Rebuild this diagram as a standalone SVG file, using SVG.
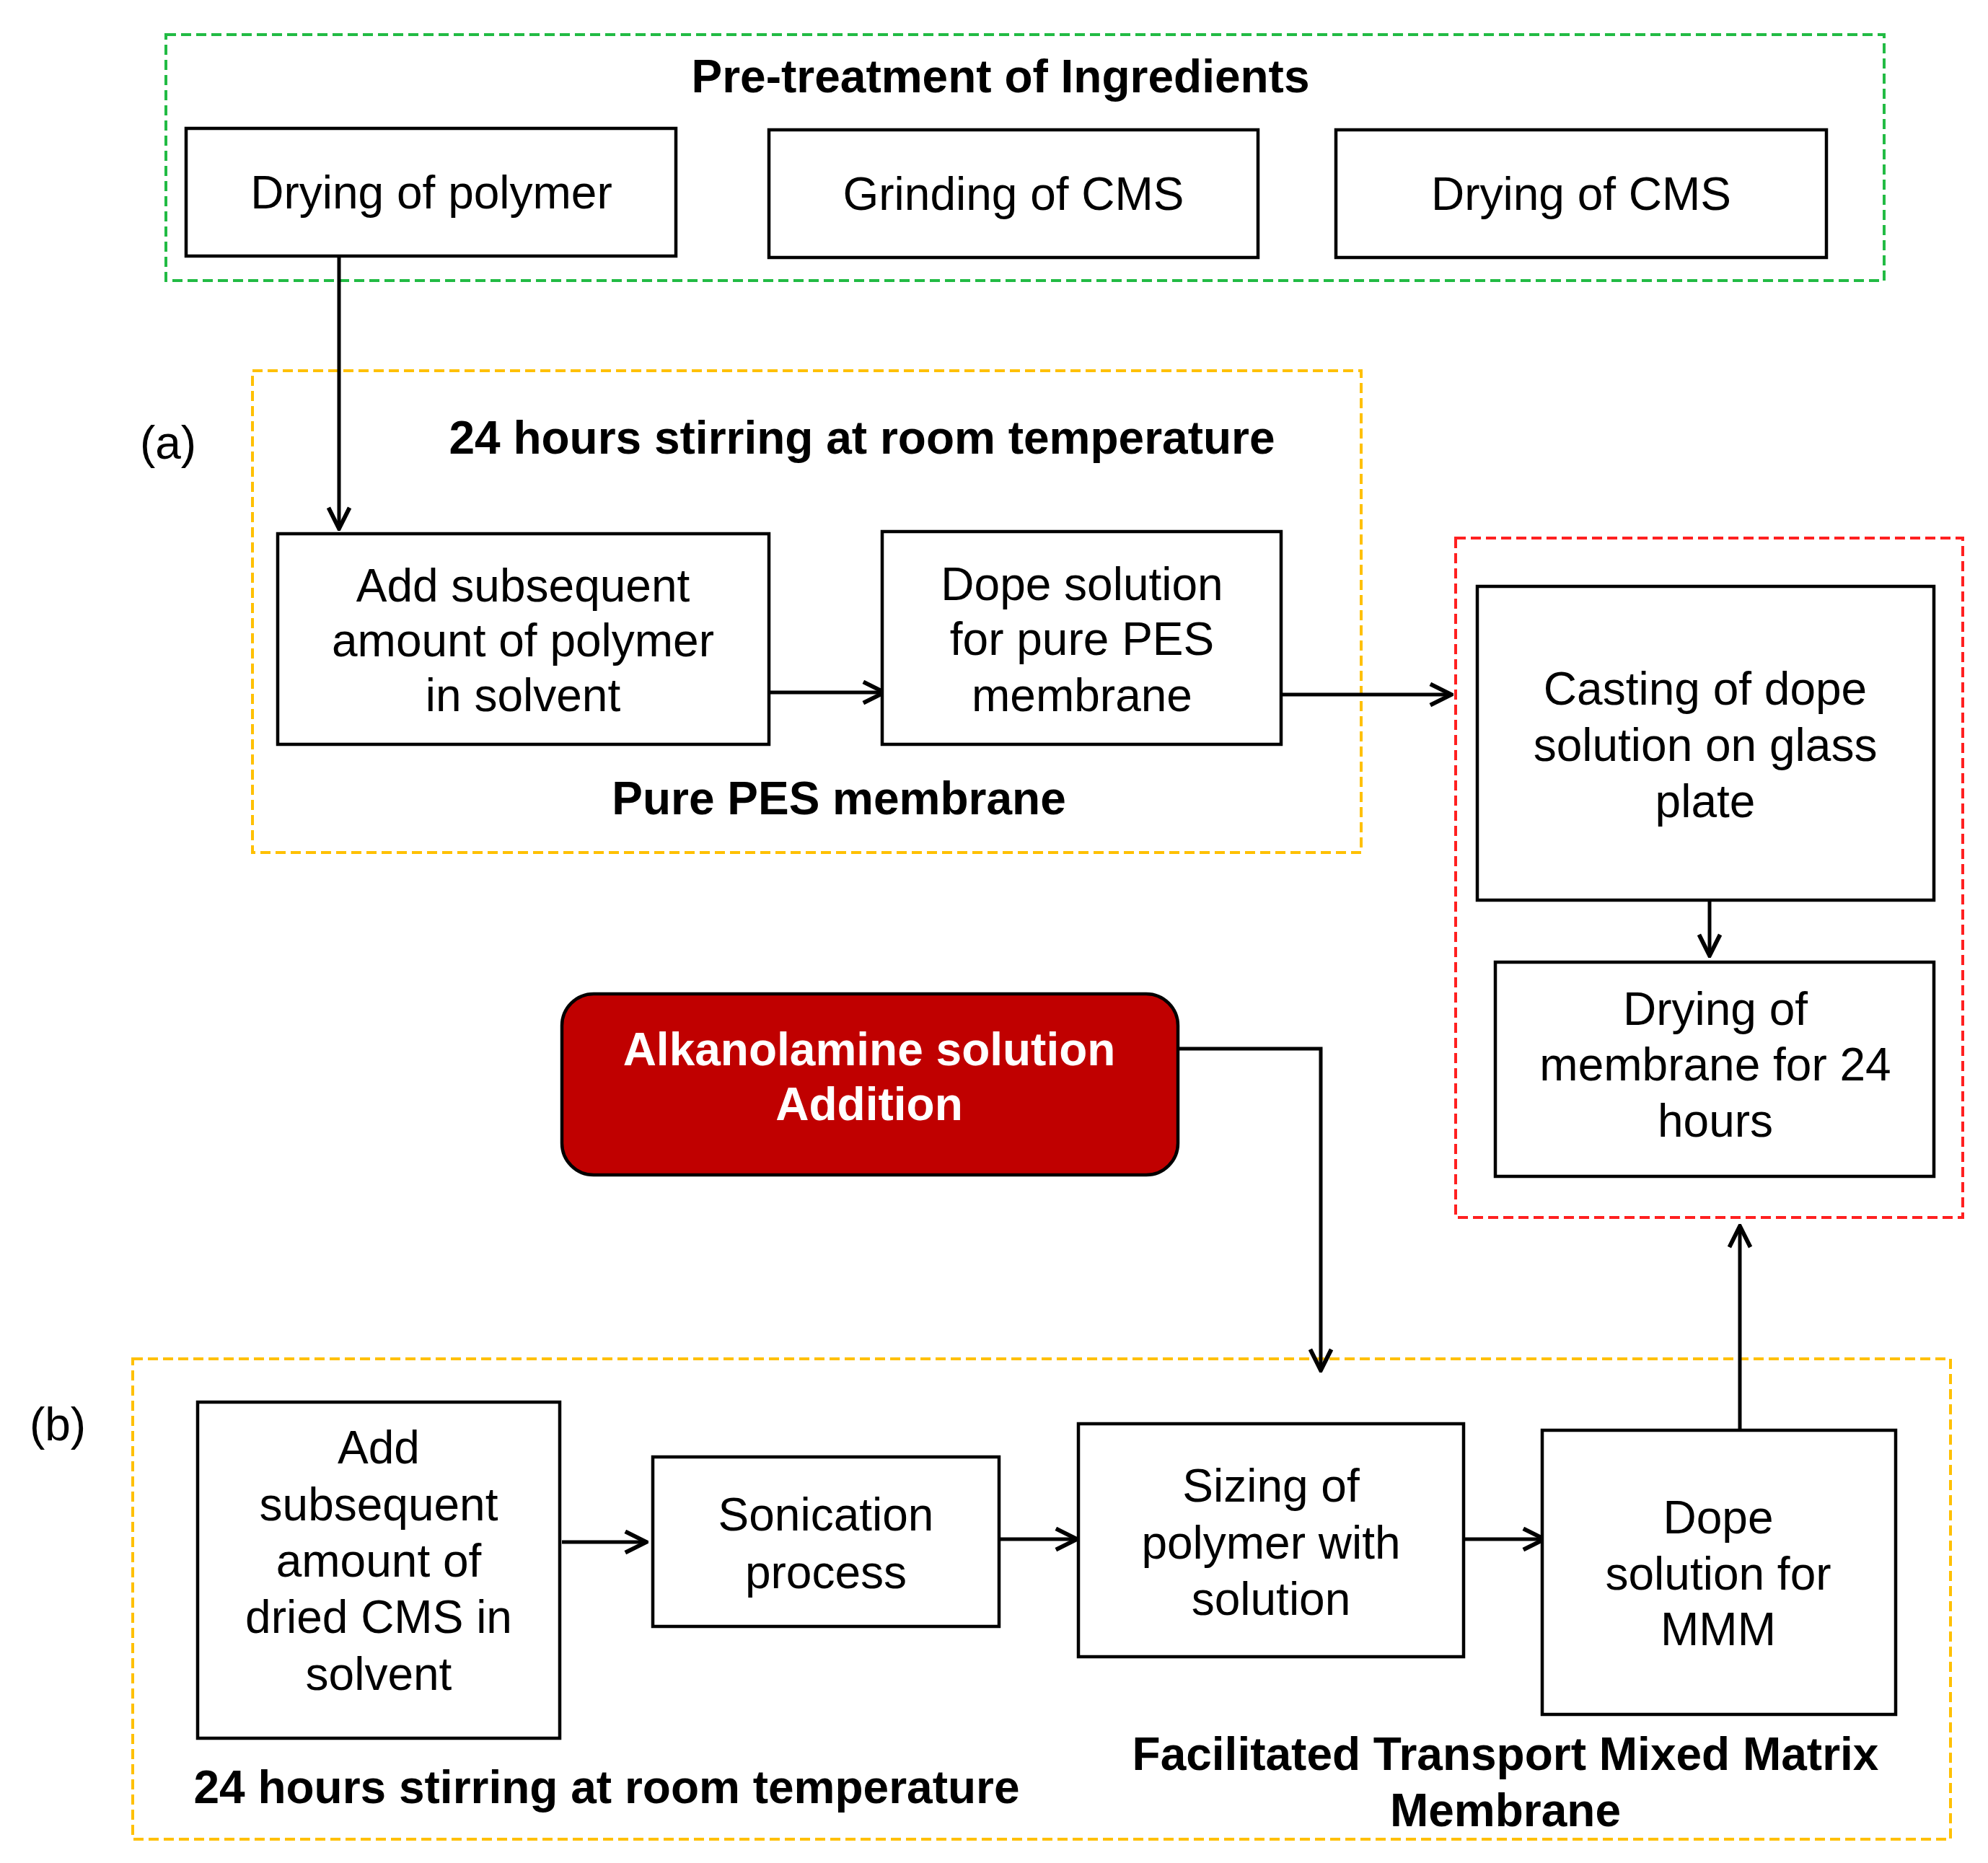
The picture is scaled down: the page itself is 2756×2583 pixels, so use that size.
<svg xmlns="http://www.w3.org/2000/svg" width="2756" height="2583" viewBox="0 0 2756 2583">
<style>
text{font-family:"Liberation Sans",Arial,sans-serif;font-size:64px;text-anchor:middle;fill:#000}
.b{font-weight:bold}
.w{fill:#fff;font-weight:bold}
.box{fill:#fff;stroke:#000;stroke-width:4.5}
.grp{fill:none;stroke-width:4;stroke-dasharray:14 7}
.c{fill:none;stroke:#000;stroke-width:5;marker-end:url(#ah)}
</style>
<defs>
<marker id="ah" viewBox="0 0 12 12" refX="11" refY="6" markerWidth="7" markerHeight="7" markerUnits="strokeWidth" orient="auto">
<path d="M1,1 L11,6 L1,11" fill="none" stroke="#000" stroke-width="2"/>
</marker>
</defs>
<rect width="2756" height="2583" fill="#fff"/>
<g id="groups">
<rect class="grp" x="230" y="48" width="2382" height="341" stroke="#22bb44"/>
<rect class="grp" x="350" y="514" width="1537" height="668" stroke="#ffc000"/>
<rect class="grp" x="2018" y="746" width="703" height="942" stroke="#ff2020"/>
<rect class="grp" x="184" y="1884" width="2520" height="666" stroke="#ffc000"/>
</g>
<g id="labels">
<text class="b" x="1387" y="128">Pre-treatment of Ingredients</text>
<text x="233" y="636">(a)</text>
<text class="b" x="1195" y="629">24 hours stirring at room temperature</text>
<text class="b" x="1163" y="1129">Pure PES membrane</text>
<text x="80" y="1997">(b)</text>
<text class="b" x="841" y="2500">24 hours stirring at room temperature</text>
<text class="b" x="2087" y="2454">Facilitated Transport Mixed Matrix</text>
<text class="b" x="2087" y="2532">Membrane</text>
</g>
<g id="connectors">
<path class="c" d="M470,355 V733"/>
<path class="c" d="M1066,960 H1226"/>
<path class="c" d="M1776,963 H2012"/>
<path class="c" d="M2370,1248 V1325"/>
<path class="c" d="M1633,1454 H1831 V1900"/>
<path class="c" d="M779,2138 H896"/>
<path class="c" d="M1385,2134 H1493"/>
<path class="c" d="M2029,2134 H2141"/>
<path class="c" d="M2412,1983 V1700"/>
</g>
<g id="n1"><rect class="box" x="258" y="178" width="679" height="177"/><text x="598" y="289">Drying of polymer</text></g>
<g id="n2"><rect class="box" x="1066" y="180" width="678" height="177"/><text x="1405" y="291">Grinding of CMS</text></g>
<g id="n3"><rect class="box" x="1852" y="180" width="680" height="177"/><text x="2192" y="291">Drying of CMS</text></g>
<g id="n4"><rect class="box" x="385" y="740" width="681" height="292"/><text x="725" y="834">Add subsequent</text><text x="725" y="910">amount of polymer</text><text x="725" y="986">in solvent</text></g>
<g id="n5"><rect class="box" x="1223" y="737" width="553" height="295"/><text x="1500" y="832">Dope solution</text><text x="1500" y="908">for pure PES</text><text x="1500" y="986">membrane</text></g>
<g id="n6"><rect class="box" x="2048" y="813" width="633" height="435"/><text x="2364" y="977">Casting of dope</text><text x="2364" y="1055">solution on glass</text><text x="2364" y="1133">plate</text></g>
<g id="n7"><rect class="box" x="2073" y="1334" width="608" height="297"/><text x="2378" y="1421">Drying of</text><text x="2378" y="1498">membrane for 24</text><text x="2378" y="1576">hours</text></g>
<g id="n8"><rect x="779" y="1378" width="854" height="251" rx="44" fill="#c00000" stroke="#000" stroke-width="4.5"/><text class="w" x="1205" y="1477">Alkanolamine solution</text><text class="w" x="1205" y="1553">Addition</text></g>
<g id="n9"><rect class="box" x="274" y="1944" width="502" height="466"/><text x="525" y="2029">Add</text><text x="525" y="2108">subsequent</text><text x="525" y="2186">amount of</text><text x="525" y="2264">dried CMS in</text><text x="525" y="2343">solvent</text></g>
<g id="n10"><rect class="box" x="905" y="2020" width="480" height="235"/><text x="1145" y="2122">Sonication</text><text x="1145" y="2202">process</text></g>
<g id="n11"><rect class="box" x="1495" y="1974" width="534" height="323"/><text x="1762" y="2082">Sizing of</text><text x="1762" y="2161">polymer with</text><text x="1762" y="2239">solution</text></g>
<g id="n12"><rect class="box" x="2138" y="1983" width="490" height="394"/><text x="2382" y="2126">Dope</text><text x="2382" y="2204">solution for</text><text x="2382" y="2281">MMM</text></g>
</svg>
